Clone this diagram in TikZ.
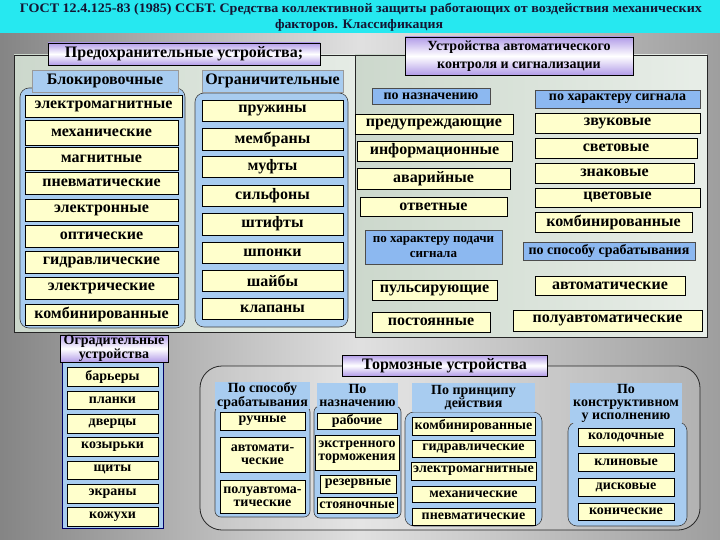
\documentclass[tikz,border=0pt]{standalone}
\usepackage{fontspec}
\setmainfont{Liberation Serif}
\usepackage{graphicx}
\usetikzlibrary{shapes.misc}
\definecolor{cyanbar}{RGB}{38,232,240}
\definecolor{cream}{RGB}{255,255,204}
\definecolor{lblue}{RGB}{168,204,240}
\definecolor{mblue}{RGB}{140,184,240}
\definecolor{lav}{RGB}{178,156,232}
\definecolor{frA}{RGB}{204,216,204}
\definecolor{frB}{RGB}{232,238,232}
\definecolor{titlec}{RGB}{20,20,50}
\newcommand\fs[2]{\fontsize{#1}{#2}\selectfont\bfseries}
\newcommand\mybox[7]{\node[#1, minimum width={(#5-#3)*1pt}, minimum height={(#6-#4)*1pt}] (#2) at ({(#3+#5)/2},{(#4+#6)/2}) {#7};}
\tikzset{
  base/.style={inner sep=0pt, outer sep=0pt, align=center},
  item/.style={base, draw=black, line width=0.6pt, fill=cream, font=\fs{16}{16}},
  sitem/.style={base, draw=black, line width=0.6pt, fill=cream, font=\fs{14}{13}},
  blab/.style={base, draw=black!70, line width=0.5pt, fill=mblue, font=\fs{14}{15}},
  bhead/.style={base, draw=black!40, line width=0.4pt, fill=lblue, font=\fs{16}{16}},
  chead/.style={base, draw=none, fill=lblue, font=\fs{14}{13}},
  phead/.style={base, draw=black, line width=0.7pt, top color=lav, bottom color=lav, middle color=white, font=\fs{16}{16}},
  cont/.style={base, draw=black!75, line width=0.6pt, fill=lblue, rounded corners=9pt},
  frameL/.style={base, draw=black!85, line width=0.8pt, left color=frA, right color=frB!90!frA},
  frameR/.style={base, draw=black!85, line width=0.8pt, left color=frA, right color=frB},
  brk/.style={base, draw=black!85, line width=0.8pt, fill=white, fill opacity=0.18, rounded corners=22pt},
}
\begin{document}
\begin{tikzpicture}[x=1pt,y=-1pt]
\useasboundingbox (0,0) rectangle (720,540);
\shade[left color=black!48, right color=black!38, middle color=black!12] (0,0) rectangle (720,540);
\fill[cyanbar] (0,0) rectangle (720,33);
\node[base, font=\fs{13}{15}, text=titlec] (t1) at (361,9) {\resizebox{682pt}{\height}{ГОСТ 12.4.125-83 (1985) ССБТ. Средства коллективной защиты работающих от воздействия механических}};
\node[base, font=\fs{13}{15}, text=titlec] (t2) at (359,25) {\resizebox{168pt}{\height}{факторов. Классификация}};

% frames
\mybox{frameL}{fL}{14}{55}{358}{332}{}
\mybox{frameR}{fR}{355}{55}{707}{337}{}
\mybox{phead}{hPred}{48}{43}{320}{65}{Предохранительные устройства;}
\mybox{phead, font=\fs{14}{18}}{hAuto}{405}{37}{633}{75}{Устройства автоматического\\контроля и сигнализации}

% Блокировочные
\mybox{cont}{cBlk}{20}{88}{185}{328}{}
\mybox{bhead}{hBlk}{32}{70}{178}{92}{Блокировочные}
\mybox{item}{b1}{25}{95}{182}{117}{электромагнитные}
\mybox{item}{b2}{25}{120}{178}{145}{механические}
\mybox{item}{b3}{25}{147}{178}{170}{магнитные}
\mybox{item}{b4}{25}{172}{178}{194}{пневматические}
\mybox{item}{b5}{25}{199}{178}{221}{электронные}
\mybox{item}{b6}{25}{225}{178}{247}{оптические}
\mybox{item}{b7}{25}{251}{178}{273}{гидравлические}
\mybox{item}{b8}{25}{277}{178}{299}{электрические}
\mybox{item}{b9}{25}{304}{178}{325}{комбинированные}

% Ограничительные
\mybox{cont}{cOgr}{195}{93}{348}{327}{}
\mybox{bhead}{hOgr}{202}{70}{343}{92}{Ограничительные}
\mybox{item}{o1}{202}{100}{343}{121}{пружины}
\mybox{item}{o2}{202}{128}{343}{150}{мембраны}
\mybox{item}{o3}{202}{156}{343}{177}{муфты}
\mybox{item}{o4}{202}{185}{343}{206}{сильфоны}
\mybox{item}{o5}{202}{213}{343}{235}{штифты}
\mybox{item}{o6}{202}{242}{343}{263}{шпонки}
\mybox{item}{o7}{202}{270}{343}{291}{шайбы}
\mybox{item}{o8}{202}{298}{343}{319}{клапаны}

% Автоматический контроль
\mybox{blab}{aN}{372}{88}{490}{104}{по назначению}
\mybox{blab}{aS}{535}{90}{700}{108}{по характеру сигнала}
\mybox{item}{a1}{355}{114}{513}{134}{предупреждающие}
\mybox{item}{a2}{357}{141}{512}{161}{информационные}
\mybox{item}{a3}{357}{168}{510}{189}{аварийные}
\mybox{item}{a4}{360}{197}{507}{216}{ответные}
\mybox{blab, font=\fs{13}{15}}{aP}{365}{230}{502}{264}{по характеру подачи\\сигнала}
\mybox{item}{a5}{372}{280}{497}{300}{пульсирующие}
\mybox{item}{a6}{372}{312}{490}{332}{постоянные}
\mybox{item}{s1}{535}{113}{700}{133}{звуковые}
\mybox{item}{s2}{535}{138}{697}{158}{световые}
\mybox{item}{s3}{535}{163}{694}{183}{знаковые}
\mybox{item}{s4}{535}{188}{700}{207}{цветовые}
\mybox{item}{s5}{535}{212}{692}{232}{комбинированные}
\mybox{blab}{aW}{523}{242}{695}{260}{по способу срабатывания}
\mybox{item}{s6}{535}{276}{685}{295}{автоматические}
\mybox{item}{s7}{513}{310}{702}{331}{полуавтоматические}

% Оградительные
\mybox{base, draw=black!60!blue, line width=0.8pt, fill=lblue}{cOgd}{62}{362}{163}{528}{}
\mybox{phead, font=\fs{14}{12.5}}{hOgd}{60}{335}{168}{362}{Оградительные\\устройства}
\mybox{sitem}{g1}{67}{367}{158}{386}{барьеры}
\mybox{sitem}{g2}{67}{391}{158}{409}{планки}
\mybox{sitem}{g3}{67}{414}{158}{433}{дверцы}
\mybox{sitem}{g4}{67}{437}{158}{456}{козырьки}
\mybox{sitem}{g5}{67}{461}{158}{479}{щиты}
\mybox{sitem}{g6}{67}{484}{158}{503}{экраны}
\mybox{sitem}{g7}{67}{507}{158}{526}{кожухи}

% Тормозные
\mybox{brk}{cBrk}{200}{366}{700}{530}{}
\mybox{phead}{hBrk}{342}{355}{547}{376}{Тормозные устройства}
\mybox{cont, rounded corners=6pt}{k1}{215}{406}{310}{517}{}
\mybox{chead}{h1}{215}{383}{310}{408}{По способу\\срабатывания}
\mybox{sitem}{t11}{220}{412}{305}{430}{ручные}
\mybox{sitem}{t12}{220}{437}{305}{472}{автомати-\\ческие}
\mybox{sitem}{t13}{220}{480}{305}{513}{полуавтома-\\тические}
\mybox{cont, rounded corners=6pt}{k2}{314}{406}{401}{518}{}
\mybox{chead}{h2}{317}{383}{398}{407}{По\\назначению}
\mybox{sitem}{t21}{317}{413}{397}{429}{рабочие}
\mybox{sitem}{t22}{315}{435}{399}{470}{экстренного\\торможения}
\mybox{sitem}{t23}{320}{475}{396}{493}{резервные}
\mybox{sitem}{t24}{317}{497}{397}{513}{стояночные}
\mybox{cont}{k3}{405}{412}{542}{526}{}
\mybox{chead}{h3}{412}{383}{535}{412}{По принципу\\действия}
\mybox{sitem}{t31}{412}{417}{535}{435}{комбинированные}
\mybox{sitem}{t32}{412}{440}{535}{457}{гидравлические}
\mybox{sitem}{t33}{411}{462}{536}{480}{электромагнитные}
\mybox{sitem}{t34}{412}{486}{535}{502}{механические}
\mybox{sitem}{t35}{412}{508}{535}{525}{пневматические}
\mybox{cont}{k4}{568}{422}{687}{526}{}
\mybox{chead}{h4}{570}{383}{682}{423}{По\\конструктивном\\у исполнению}
\mybox{sitem}{t41}{578}{428}{674}{446}{колодочные}
\mybox{sitem}{t42}{578}{453}{674}{471}{клиновые}
\mybox{sitem}{t43}{578}{478}{674}{496}{дисковые}
\mybox{sitem}{t44}{578}{503}{674}{520}{конические}
\end{tikzpicture}
\end{document}
